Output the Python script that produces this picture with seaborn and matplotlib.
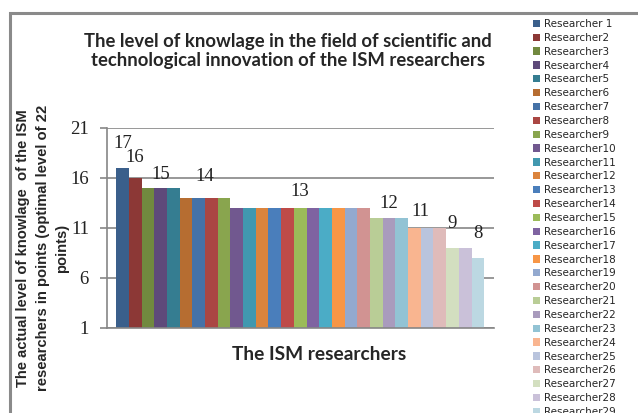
import matplotlib
matplotlib.use("Agg")
import matplotlib.pyplot as plt
from matplotlib.patches import Patch, Rectangle
import seaborn as sns

# Data
researchers = ["Researcher 1"] + ["Researcher%d" % i for i in range(2, 30)]
scores = [17, 16, 15, 15, 15, 14, 14, 14, 14, 13, 13, 13, 13, 13, 13, 13,
          13, 13, 13, 13, 12, 12, 12, 11, 11, 11, 9, 9, 8]

# only one value label per group, as in the original chart
label_values = [17, 16, 15, 14, 13, 12, 11, 9, 8]
label_bar = [0, 1, 3, 6.5, 14, 21, 23.5, 26, 28]
label_lift = [2.4, 2.0, 1.3, 2.1, 1.6, 1.4, 1.6, 2.4, 2.4]

colors = ["#3A5F8B", "#8C3836", "#71893F", "#5E4A7A", "#357D91", "#B66D31",
          "#4572A7", "#AA4643", "#89A54E", "#71588F", "#4198AF", "#DB843D",
          "#4A7EBB", "#BE4B48", "#9BBB59", "#7F63A1", "#4BACC6", "#F79646",
          "#93A9CF", "#D19392", "#B9CD96", "#A99BBD", "#92C3D4", "#F9B590",
          "#B9C4DD", "#DFBBBA", "#D3DFC0", "#CAC1D9", "#BCD8E2"]

title = ("The level of knowlage in the field of scientific and\n"
         "technological innovation of the ISM researchers")
ylabel = ("The actual level of knowlage  of the ISM\n"
          "researchers in points (optimal level of 22\npoints)")
xlabel = "The ISM researchers"

sns.set_style("white")
grid_c = "#868686"

fig = plt.figure(figsize=(6.38, 4.13), dpi=100)
ax = fig.add_axes([107 / 638, 1 - 328 / 413, 387 / 638, 200 / 413])

sns.barplot(x=researchers, y=scores, hue=researchers, palette=colors,
            width=1.0, saturation=1, legend=False, ax=ax, linewidth=0)

ax.set_ylim(1, 21)
ax.set_yticks([1, 6, 11, 16, 21])
ax.set_xlim(-1.22, 29.27)
ax.set_xticks([])
ax.set_xlabel("")
ax.set_ylabel("")
ax.yaxis.grid(True, color=grid_c, linewidth=1.2)
ax.set_axisbelow(True)
for s in ["top", "right"]:
    ax.spines[s].set_visible(False)
for s in ["left", "bottom"]:
    ax.spines[s].set_color(grid_c)
    ax.spines[s].set_linewidth(1.2)
ax.tick_params(axis="y", direction="out", length=5, width=1.2, color=grid_c,
               pad=8, left=True, labelsize=13.5)
for t in ax.get_yticklabels():
    t.set_fontfamily("Liberation Serif")
    t.set_color("#222222")

for v, b, d in zip(label_values, label_bar, label_lift):
    ax.text(b, v + d, str(v), ha="center", va="center",
            fontfamily="Liberation Serif", fontsize=13.5, color="#222222")

# titles
fig.text(288 / 638, 1 - 51 / 413, title, ha="center", va="center",
         fontfamily="Lato", fontweight="bold", fontsize=13.3, linespacing=1.15)
fig.text(319 / 638, 1 - 354 / 413, xlabel, ha="center", va="center",
         fontfamily="Lato", fontweight="bold", fontsize=13.8)
fig.text(43 / 638, 1 - 248 / 413, ylabel, ha="center", va="center",
         rotation=90, multialignment="center", fontfamily="Liberation Sans",
         fontweight="bold", fontsize=10.6, linespacing=1.5)

# legend
handles = [Patch(facecolor=c, edgecolor="none") for c in colors]
fig.legend(handles, researchers, loc="upper left",
           bbox_to_anchor=(533 / 638, 1 - 19 / 413), frameon=False,
           fontsize=7.5, handlelength=0.7, handleheight=0.7,
           handletextpad=0.4, labelspacing=0.37, borderpad=0,
           borderaxespad=0)

# chart area border (cut by the picture edge)
fig.add_artist(Rectangle((10 / 638, -0.2), 1.2, 1.2 - 13 / 413,
                         transform=fig.transFigure, fill=False,
                         edgecolor="#8A8A8A", linewidth=2.2))

fig.savefig("out.png", dpi=100)
